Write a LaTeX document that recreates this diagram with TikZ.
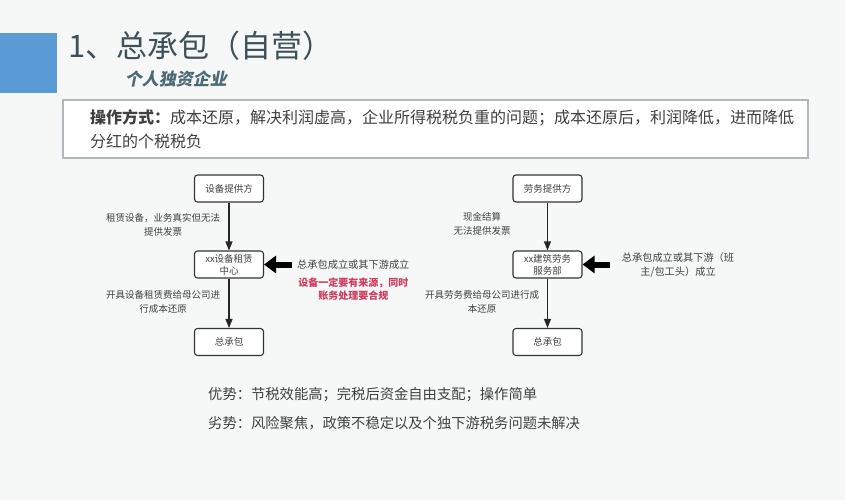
\documentclass[tikz,border=0pt]{standalone}
\usepackage{fontspec}
\setmainfont{Noto Sans CJK SC}
\usetikzlibrary{arrows.meta,positioning}
\definecolor{pagebg}{RGB}{246,247,247}
\definecolor{tabblue}{RGB}{91,155,213}
\definecolor{titlegray}{RGB}{62,80,88}
\definecolor{subgray}{RGB}{76,106,116}
\definecolor{textgray}{RGB}{64,64,64}
\definecolor{framegray}{RGB}{176,184,188}
\definecolor{notered}{RGB}{205,62,95}
\tikzset{
  box/.style={draw=black!80, fill=white, rounded corners=3pt, line width=1.1pt,
    minimum width=69pt, minimum height=27pt, inner sep=1pt, align=center,
    text=textgray, font=\fontsize{9.5}{12}\selectfont},
  lbl/.style={align=center, inner sep=0pt, text=textgray, font=\fontsize{9.5}{13.5}\selectfont},
  thin arrow/.style={draw=black!85, line width=1.1pt, -{Triangle[length=9pt,width=7pt]}},
  fat arrow/.style={draw=black, line width=6pt, -{Triangle[length=12pt,width=17pt]}}
}
\begin{document}
\begin{tikzpicture}[x=1pt,y=-1pt]
\fill[pagebg] (0,0) rectangle (845,500);
\useasboundingbox (0,0) rectangle (845,500);
% heading
\fill[tabblue] (0,33) rectangle (57,93);
\node[anchor=west, inner sep=0pt, text=titlegray, font=\fontsize{31}{31}\selectfont] (title) at (68,46) {1、总承包（自营）};
\node[anchor=west, inner sep=0pt, text=subgray, font=\fontsize{17}{17}\selectfont\bfseries, xslant=0.2] (sub) at (126,79) {个人独资企业};
\node[draw=framegray, fill=white, line width=1.8pt, minimum width=745pt, minimum height=58pt,
  inner xsep=27pt, text width=691pt, align=left, text=textgray,
  font=\fontsize{16}{24}\selectfont] (how) at (435.5,129)
  {\textbf{操作方式：}成本还原，解决利润虚高，企业所得税税负重的问题；成本还原后，利润降低，进而降低\\分红的个税税负};
% two flows
\foreach \c/\x/\a/\b in {l/229/设备提供方/{xx设备租赁\\中心}, r/547.5/劳务提供方/{xx建筑劳务\\服务部}}{
  \node[box] (\c1) at (\x,188.5) {\a};
  \node[box] (\c2) at (\x,264.5) {\b};
  \node[box] (\c3) at (\x,342) {总承包};
  \draw[thin arrow] (\c1) -- (\c2);
  \draw[thin arrow] (\c2) -- (\c3);
}
\node[lbl] (lrent) at (163,225) {租赁设备，业务真实但无法\\提供发票};
\node[lbl] (linv) at (163,302) {开具设备租赁费给母公司进\\行成本还原};
\node[lbl] (rcash) at (482,224) {现金结算\\无法提供发票};
\node[lbl] (rinv) at (482,302) {开具劳务费给母公司进行成\\本还原};
\coordinate (lsrc) at (292,264.5);
\coordinate (rsrc) at (610,264.5);
\draw[fat arrow] (lsrc) -- (l2);
\draw[fat arrow] (rsrc) -- (r2);
\node[lbl, anchor=west, font=\fontsize{10.2}{14}\selectfont] (lcond) at (297,265) {总承包成立或其下游成立};
\node[lbl, below=8pt of lcond, text=notered, font=\fontsize{10}{12.5}\selectfont\bfseries] (lred) {设备一定要有来源，同时\\账务处理要合规};
\node[lbl, font=\fontsize{10.2}{14}\selectfont] (rcond) at (678,265) {总承包成立或其下游（班\\主/包工头）成立};
% pros and cons
\node[anchor=west, inner sep=0pt, text=textgray, font=\fontsize{14.3}{14}\selectfont] (pro) at (208,395) {优势：节税效能高；完税后资金自由支配；操作简单};
\node[anchor=west, inner sep=0pt, text=textgray, font=\fontsize{14.3}{14}\selectfont] (con) at (208,423) {劣势：风险聚焦，政策不稳定以及个独下游税务问题未解决};
\end{tikzpicture}
\end{document}
